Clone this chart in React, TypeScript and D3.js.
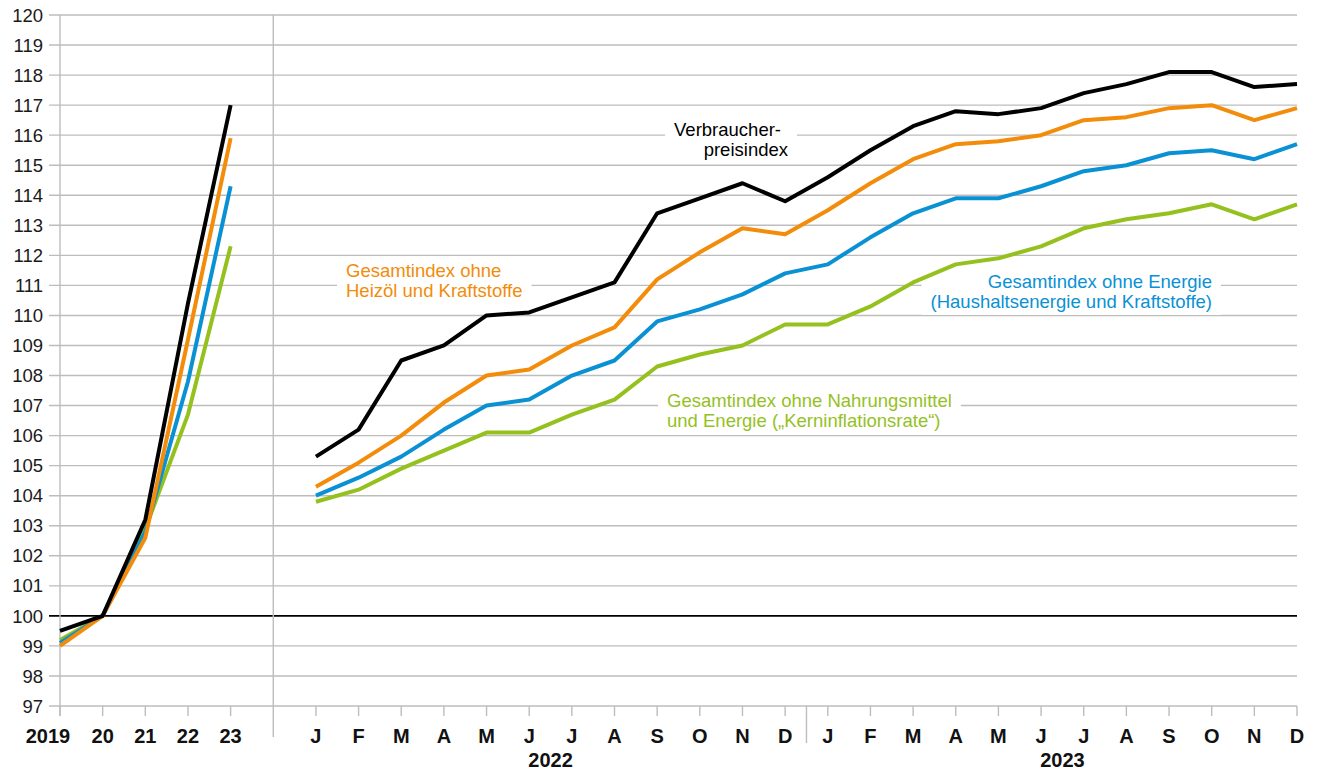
import React from "react";
import * as d3 from "d3";

const yearLabels = ["2019", "20", "21", "22", "23"];
const monthLabels = ["J", "F", "M", "A", "M", "J", "J", "A", "S", "O", "N", "D"];
const monthYears = ["2022", "2023"];
const yTicks = d3.range(97, 121);

// annual values 2019..2023
const vpiYear = [99.5, 100, 103.2, 110.4, 117.0];
const heizYear = [99.0, 100, 102.6, 109.2, 115.9];
const energieYear = [99.1, 100, 102.8, 107.8, 114.3];
const kernYear = [99.2, 100, 102.9, 106.7, 112.3];

// monthly values Jan 2022 .. Dec 2023
const vpiMonth = [105.3, 106.2, 108.5, 109.0, 110.0, 110.1, 110.6, 111.1, 113.4, 113.9, 114.4, 113.8,
  114.6, 115.5, 116.3, 116.8, 116.7, 116.9, 117.4, 117.7, 118.1, 118.1, 117.6, 117.7];
const heizMonth = [104.3, 105.1, 106.0, 107.1, 108.0, 108.2, 109.0, 109.6, 111.2, 112.1, 112.9, 112.7,
  113.5, 114.4, 115.2, 115.7, 115.8, 116.0, 116.5, 116.6, 116.9, 117.0, 116.5, 116.9];
const energieMonth = [104.0, 104.6, 105.3, 106.2, 107.0, 107.2, 108.0, 108.5, 109.8, 110.2, 110.7, 111.4,
  111.7, 112.6, 113.4, 113.9, 113.9, 114.3, 114.8, 115.0, 115.4, 115.5, 115.2, 115.7];
const kernMonth = [103.8, 104.2, 104.9, 105.5, 106.1, 106.1, 106.7, 107.2, 108.3, 108.7, 109.0, 109.7,
  109.7, 110.3, 111.1, 111.7, 111.9, 112.3, 112.9, 113.2, 113.4, 113.7, 113.2, 113.7];

const series = [
  { name: "kern", color: "#95c11f", year: kernYear, month: kernMonth },
  { name: "energie", color: "#0a91d4", year: energieYear, month: energieMonth },
  { name: "heiz", color: "#f28c0a", year: heizYear, month: heizMonth },
  { name: "vpi", color: "#000000", year: vpiYear, month: vpiMonth },
];

const labels = [
  { lines: ["Verbraucher-", "preisindex"], color: "#000", xs: [781, 788], y: 130, anchor: "end" },
  { lines: ["Gesamtindex ohne", "Heizöl und Kraftstoffe"], color: "#f28c0a", xs: [346, 346], y: 271, anchor: "start" },
  { lines: ["Gesamtindex ohne Energie", "(Haushaltsenergie und Kraftstoffe)"], color: "#0a91d4", xs: [1212, 1212], y: 282, anchor: "end" },
  { lines: ["Gesamtindex ohne Nahrungsmittel", "und Energie („Kerninflationsrate“)"], color: "#95c11f", xs: [667, 667], y: 401, anchor: "start" },
];

const FONT = "'Liberation Sans', Arial, sans-serif";
let ctx: CanvasRenderingContext2D | null = null;
function measure(s: string, size: number) {
  if (!ctx && typeof document !== "undefined") ctx = document.createElement("canvas").getContext("2d");
  if (!ctx) return s.length * size * 0.5;
  ctx.font = `${size}px 'Liberation Sans'`;
  return ctx.measureText(s).width;
}

export default function App() {
  const W = 1317, H = 771;
  const left = 60, right = 1297, top = 15, bottom = 706;
  const x = d3.scaleLinear().domain([0, 29]).range([left, right]);
  const y = d3.scaleLinear().domain([97, 120]).range([bottom, top]);
  const line = d3.line<[number, number]>().x((d) => x(d[0])).y((d) => y(d[1])).curve(d3.curveLinear);
  const grid = "#bdbdbd";
  const fs = 18.5;
  const bfs = 20;

  return (
    <svg width={W} height={H} style={{ position: "absolute", left: 0, top: 0 }} fontFamily={FONT}>
      <rect width={W} height={H} fill="#fff" />
      {yTicks.map((t) => (
        <g key={t}>
          <line x1={left - 11} x2={right} y1={y(t)} y2={y(t)} stroke={t === 100 ? "#000" : grid} strokeWidth={t === 100 ? 1.6 : 1.4} />
          <text x={43} y={y(t)} dy="0.36em" textAnchor="end" fontSize={fs} fill="#1a1a1a">{t}</text>
        </g>
      ))}
      <line x1={left} x2={left} y1={top} y2={bottom + 10} stroke={grid} strokeWidth={1.4} />
      <line x1={x(5)} x2={x(5)} y1={top} y2={737} stroke={grid} strokeWidth={1.4} />
      <line x1={x(17.5)} x2={x(17.5)} y1={bottom} y2={743} stroke={grid} strokeWidth={1.4} />
      {[0, 1, 2, 3, 4].concat(d3.range(6, 30)).map((i) => (
        <line key={"t" + i} x1={x(i)} x2={x(i)} y1={bottom} y2={bottom + 10} stroke={grid} strokeWidth={1.4} />
      ))}
      {yearLabels.map((l, i) => (
        <text key={"y" + i} x={x(i) - (i === 0 ? 12 : 0)} y={743} textAnchor="middle" fontSize={bfs} fontWeight="bold" fill="#111">{l}</text>
      ))}
      {d3.range(24).map((i) => (
        <text key={"m" + i} x={x(i + 6)} y={743} textAnchor="middle" fontSize={bfs} fontWeight="bold" fill="#111">{monthLabels[i % 12]}</text>
      ))}
      {monthYears.map((l, k) => (
        <text key={l} x={(x(6 + k * 12) + x(17 + k * 12)) / 2} y={767} textAnchor="middle" fontSize={bfs} fontWeight="bold" fill="#111">{l}</text>
      ))}
      {labels.map((lb, k) => {
        const ws = lb.lines.map((s) => measure(s, fs));
        const x0s = lb.lines.map((_, j) => (lb.anchor === "start" ? lb.xs[j] : lb.xs[j] - ws[j]));
        const x1s = lb.lines.map((_, j) => x0s[j] + ws[j]);
        const xmin = Math.min(...x0s), xmax = Math.max(...x1s);
        return (
          <g key={"lb" + k}>
            <rect x={xmin - 9} y={lb.y - 13} width={xmax - xmin + 18} height={lb.lines.length * 20 + 6} fill="#fff" />
            {lb.lines.map((s, j) => (
              <text key={j} x={lb.xs[j]} y={lb.y + j * 20} dy="0.35em" textAnchor={lb.anchor as any} fontSize={fs} fill={lb.color}>{s}</text>
            ))}
          </g>
        );
      })}
      {series.map((s) => (
        <g key={s.name}>
          <path d={line(s.year.map((v, i) => [i, v]) as [number, number][]) || ""} fill="none" stroke={s.color} strokeWidth={4} strokeLinejoin="round" />
          <path d={line(s.month.map((v, i) => [i + 6, v]) as [number, number][]) || ""} fill="none" stroke={s.color} strokeWidth={4} strokeLinejoin="round" />
        </g>
      ))}
    </svg>
  );
}
